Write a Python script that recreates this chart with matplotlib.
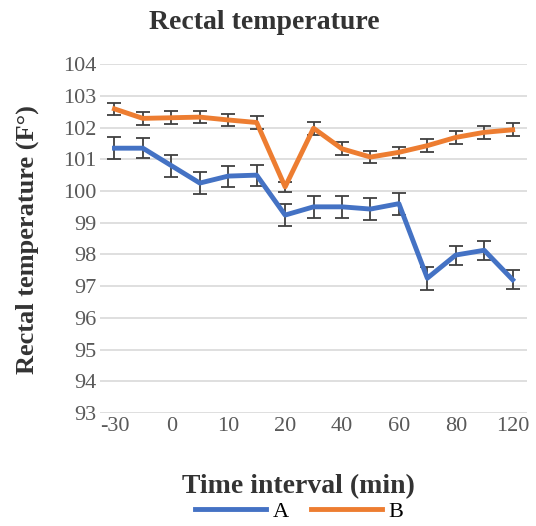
import numpy as np
from matplotlib import pyplot as plt
from matplotlib.lines import Line2D

plt.rcParams['font.family'] = ['Liberation Serif', 'DejaVu Serif']

times = ['-30', '-15', '0', '5', '10', '15', '20', '30', '40', '50', '60', '70', '80', '100', '120']
temp_a = [101.35, 101.35, 100.8, 100.25, 100.47, 100.5, 99.24, 99.5, 99.5, 99.43, 99.6, 97.25, 97.98, 98.13, 97.2]
err_a = [0.35, 0.32, 0.35, 0.35, 0.33, 0.33, 0.35, 0.35, 0.35, 0.35, 0.35, 0.36, 0.3, 0.3, 0.3]
temp_b = [102.59, 102.29, 102.31, 102.33, 102.24, 102.16, 100.13, 101.98, 101.33, 101.07, 101.22, 101.43, 101.69, 101.85, 101.93]
err_b = [0.2, 0.2, 0.2, 0.2, 0.18, 0.22, 0.15, 0.2, 0.2, 0.2, 0.18, 0.2, 0.2, 0.2, 0.2]

col_a = '#4472C4'
col_b = '#ED7D31'

fig = plt.figure(figsize=(5.36, 5.26), dpi=100)
ax = fig.add_axes([0.187, 0.215, 0.796, 0.663])

x = np.arange(len(times))
ax.errorbar(x, temp_a, yerr=err_a, color=col_a, lw=3.5, ecolor='#404040',
            elinewidth=1.3, capsize=5, capthick=1.3, zorder=3)
ax.errorbar(x, temp_b, yerr=err_b, color=col_b, lw=3.5, ecolor='#404040',
            elinewidth=1.3, capsize=5, capthick=1.3, zorder=3)

ax.set_xlim(-0.5, len(times) - 0.5)
ax.set_ylim(93, 104)
ax.set_yticks(range(93, 105))
ax.set_xticks(x[::2])
ax.set_xticklabels(times[::2])
ax.grid(axis='y', color='#d9d9d9', lw=1.2)
ax.set_axisbelow(True)
for s in ax.spines.values():
    s.set_visible(False)
ax.tick_params(length=0, labelsize=16, labelcolor='#595959', pad=3)

fig.text(0.493, 0.958, 'Rectal temperature', fontsize=20, fontweight='bold',
         color='#333333', ha='center', va='center')
fig.text(0.557, 0.074, 'Time interval (min)', fontsize=20, fontweight='bold',
         color='#333333', ha='center', va='center')
fig.text(0.05, 0.544, 'Rectal temperature (F°)', fontsize=19, fontweight='bold',
         color='#333333', ha='center', va='center', rotation=90)

handles = [Line2D([], [], color=col_a, lw=3.5), Line2D([], [], color=col_b, lw=3.5)]
fig.legend(handles, ['A', 'B'], loc='center', ncol=2, frameon=False, fontsize=16,
           bbox_to_anchor=(0.558, 0.027), handlelength=3.2, columnspacing=1.0,
           handletextpad=0.3, borderpad=0.1)

plt.savefig('out.png')
